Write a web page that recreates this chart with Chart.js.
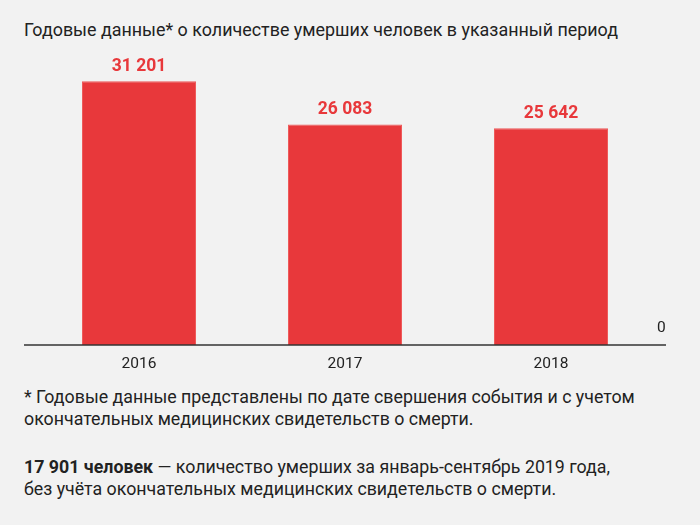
<!DOCTYPE html>
<html lang="ru">
<head>
<meta charset="utf-8">
<script src="https://cdn.jsdelivr.net/npm/chart.js@4"></script>
<style>
  html, body { margin: 0; padding: 0; background: #f2f2f2; }
  body { width: 700px; height: 525px; position: relative; overflow: hidden;
         font-family: Roboto, "DejaVu Sans Condensed", sans-serif; color: #222; }
  #title { position: absolute; left: 24px; top: 19px; font-size: 17.9px; white-space: nowrap; }
  #wrap { position: absolute; left: 0; top: 0; width: 700px; height: 380px; }
  .note { position: absolute; left: 24px; font-size: 17.8px; line-height: 22px; white-space: nowrap; }
  #note1 { top: 386px; }
  #note2 { top: 456px; }
</style>
</head>
<body>
<div id="title">Годовые данные* о количестве умерших человек в указанный период</div>
<div id="wrap"><canvas id="deathsChart"></canvas></div>
<div class="note" id="note1">* Годовые данные представлены по дате свершения события и с учетом<br>окончательных медицинских свидетельств о смерти.</div>
<div class="note" id="note2"><b>17 901 человек</b> — количество умерших за январь-сентябрь 2019 года,<br>без учёта окончательных медицинских свидетельств о смерти.</div>
<script>
// Данные с картинки
const years = ['2016', '2017', '2018'];
const deaths = [31201, 26083, 25642];
const yTicks = [0];

const FONT = 'Roboto, "DejaVu Sans Condensed", sans-serif';

function fmt(v) {
    return String(v).replace(/\B(?=(\d{3})+(?!\d))/g, ' ');
}

// подписи значений над столбиками + базовая линия
const extras = {
    id: 'extras',
    afterDatasetsDraw(chart) {
        const ctx = chart.ctx;
        const meta = chart.getDatasetMeta(0);
        ctx.save();
        ctx.fillStyle = '#e8383b';
        ctx.font = 'bold 17.5px ' + FONT;
        ctx.textAlign = 'center';
        ctx.textBaseline = 'alphabetic';
        meta.data.forEach((bar, i) => {
            ctx.fillText(fmt(deaths[i]), bar.x, bar.y - 10);
        });
        const y0 = chart.scales.y.getPixelForValue(0);
        ctx.strokeStyle = '#333';
        ctx.lineWidth = 1.5;
        ctx.beginPath();
        ctx.moveTo(24, y0);
        ctx.lineTo(666, y0);
        ctx.stroke();
        ctx.restore();
    }
};

new Chart(document.getElementById('deathsChart').getContext('2d'), {
    type: 'bar',
    data: {
        labels: years,
        datasets: [{
            data: deaths,
            backgroundColor: '#e8383b',
            borderColor: '#ee5a5a',
            borderWidth: 1,
            categoryPercentage: 1,
            barPercentage: 114 / 206
        }]
    },
    options: {
        responsive: true,
        maintainAspectRatio: false,
        animation: false,
        layout: { padding: { left: 36, top: 49, right: 0, bottom: 0 } },
        plugins: {
            legend: { display: false },
            tooltip: { enabled: false }
        },
        scales: {
            x: {
                grid: { display: false, drawTicks: false },
                border: { display: false },
                ticks: { color: '#222', font: { family: FONT, size: 15.5 }, padding: 10 },
                afterFit(s) { s.height = 35; }
            },
            y: {
                position: 'right',
                min: 0,
                max: 35000,
                grid: { display: false, drawTicks: false },
                border: { display: false },
                afterBuildTicks(s) { s.ticks = yTicks.map(v => ({ value: v })); },
                ticks: { color: '#222', font: { family: FONT, size: 15.5 }, padding: 3, labelOffset: -17 },
                afterFit(s) { s.width = 46; }
            }
        }
    },
    plugins: [extras]
});
</script>
</body>
</html>
